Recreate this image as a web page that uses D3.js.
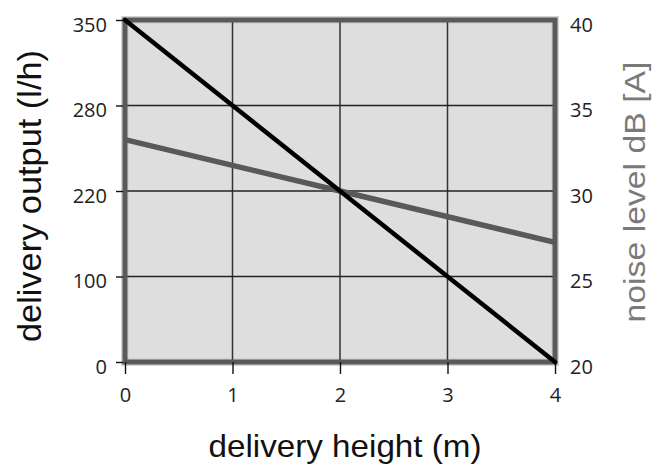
<!DOCTYPE html>
<html>
<head>
<meta charset="utf-8">
<script src="https://cdn.jsdelivr.net/npm/d3@7"></script>
<style>
	body { margin: 0; background: #fff; }
	.title { font-family: "Liberation Sans", Arial, sans-serif; }
</style>
</head>
<body>
<div id="chart"></div>
<script>
var heights = [0, 1, 2, 3, 4];
var output = [350, 280, 220, 100, 0];
var noiseHeights = [0, 2, 4];
var noise = [33, 30, 27];
var outputTicks = [0, 100, 220, 280, 350];
var noiseTicks = [20, 25, 30, 35, 40];
var heightTicks = [0, 1, 2, 3, 4];

var width = 661, height = 464;
var plotLeft = 125, plotRight = 555, plotTop = 20, plotBottom = 362;

var svg = d3.select("#chart")
	.append("svg")
	.attr("width", width)
	.attr("height", height);

var x = d3.scaleLinear().domain([0, 4]).range([plotLeft, plotRight]);

// left axis labels are evenly spaced, so use a piecewise scale
var step = (plotBottom - plotTop) / (outputTicks.length - 1);
var yOut = d3.scaleLinear()
	.domain(outputTicks)
	.range(outputTicks.map(function(d, i) { return plotBottom - i * step; }));

var yNoise = d3.scaleLinear().domain([20, 40]).range([plotBottom, plotTop]);

// plot background
svg.append("rect")
	.attr("x", plotLeft).attr("y", plotTop)
	.attr("width", plotRight - plotLeft).attr("height", plotBottom - plotTop)
	.attr("fill", "#dedede")
	.attr("stroke", "#d4d4d4")
	.attr("stroke-width", 8);

// grid
svg.selectAll("line.vgrid")
	.data(heightTicks.slice(1, -1))
	.enter().append("line")
	.attr("class", "vgrid")
	.attr("x1", function(d) { return x(d); })
	.attr("x2", function(d) { return x(d); })
	.attr("y1", plotTop).attr("y2", plotBottom)
	.attr("stroke", "#333").attr("stroke-width", 1.5);

svg.selectAll("line.hgrid")
	.data(outputTicks.slice(1, -1))
	.enter().append("line")
	.attr("class", "hgrid")
	.attr("x1", plotLeft).attr("x2", plotRight)
	.attr("y1", function(d) { return yOut(d); })
	.attr("y2", function(d) { return yOut(d); })
	.attr("stroke", "#222").attr("stroke-width", 1.3);

// frame
svg.append("rect")
	.attr("x", plotLeft).attr("y", plotTop)
	.attr("width", plotRight - plotLeft).attr("height", plotBottom - plotTop)
	.attr("fill", "none")
	.attr("stroke", "#5a5a5a")
	.attr("stroke-width", 5);

function styleTicks(g) {
	g.attr("font-size", null).attr("font-family", null);
	g.select(".domain").remove();
	g.selectAll(".tick text")
		.style("font-family", "'Open Sans', sans-serif")
		.style("font-size", "20px")
		.style("fill", "#222");
	g.selectAll(".tick line").attr("stroke", "#111").attr("stroke-width", 1.4);
}

// axes
var axL = svg.append("g")
	.attr("transform", "translate(" + (plotLeft - 2) + ",0)")
	.call(d3.axisLeft(yOut).tickValues(outputTicks).tickSize(7).tickPadding(9))
	.call(styleTicks);
axL.selectAll(".tick text").attr("dy", "0.55em");

var axR = svg.append("g")
	.attr("transform", "translate(" + (plotRight + 15) + ",0)")
	.call(d3.axisRight(yNoise).tickValues(noiseTicks).tickSize(0).tickPadding(0))
	.call(styleTicks);
axR.selectAll(".tick text").attr("dy", "0.55em");

var axB = svg.append("g")
	.attr("transform", "translate(0," + plotBottom + ")")
	.call(d3.axisBottom(x).tickValues(heightTicks).tickSize(12).tickPadding(14)
		.tickFormat(d3.format("d")))
	.call(styleTicks);
axB.selectAll(".tick text").attr("dy", "0.71em");

// lines
var line = d3.line()
	.x(function(d) { return x(d[0]); })
	.y(function(d) { return d[1]; });

svg.append("path")
	.datum(noiseHeights.map(function(h, i) { return [h, yNoise(noise[i])]; }))
	.attr("d", line)
	.attr("fill", "none")
	.attr("stroke", "#595959")
	.attr("stroke-width", 5.5);

svg.append("path")
	.datum(heights.map(function(h, i) { return [h, yOut(output[i])]; }))
	.attr("d", line)
	.attr("fill", "none")
	.attr("stroke", "#000")
	.attr("stroke-width", 4.5)
	.attr("stroke-linecap", "round");

// titles
svg.append("text")
	.attr("class", "title")
	.attr("x", 345).attr("y", 457)
	.attr("text-anchor", "middle")
	.attr("font-size", 32)
	.attr("textLength", 273)
	.attr("lengthAdjust", "spacingAndGlyphs")
	.attr("fill", "#111")
	.text("delivery height (m)");

svg.append("text")
	.attr("class", "title")
	.attr("transform", "translate(41,196) rotate(-90)")
	.attr("text-anchor", "middle")
	.attr("font-size", 33)
	.attr("textLength", 292)
	.attr("lengthAdjust", "spacingAndGlyphs")
	.attr("fill", "#111")
	.text("delivery output (l/h)");

svg.append("text")
	.attr("class", "title")
	.attr("transform", "translate(645,192) rotate(-90)")
	.attr("text-anchor", "middle")
	.attr("font-size", 29)
	.attr("textLength", 261)
	.attr("lengthAdjust", "spacingAndGlyphs")
	.attr("fill", "#7a7a7a")
	.text("noise level dB [A]");
</script>
</body>
</html>
